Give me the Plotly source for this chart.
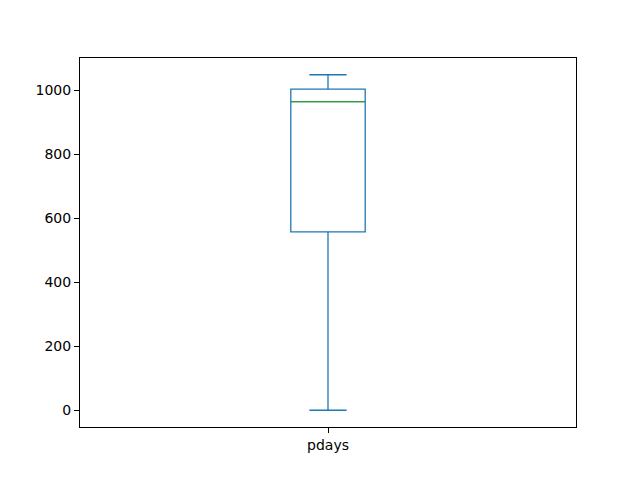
import plotly.graph_objects as go

# summary stats
labels = ["pdays"]
lower_fence = [0]
q1 = [558]
median = [965]
q3 = [1004]
upper_fence = [1049]

yticks = [0, 200, 400, 600, 800, 1000]

box_w = 0.15
xpos = [1 + i for i in range(len(labels))]

fig = go.Figure()
fig.add_trace(go.Box(
    x=xpos, q1=q1, median=median, q3=q3,
    lowerfence=lower_fence, upperfence=upper_fence,
    width=box_w, whiskerwidth=0.5,
    line=dict(color='#1f77b4', width=1.3),
    fillcolor='rgba(0,0,0,0)',
    boxpoints=False, hoverinfo='skip', showlegend=False,
))

# matplotlib draws the median in green
for x, m in zip(xpos, median):
    fig.add_trace(go.Scatter(
        x=[x - box_w / 2, x + box_w / 2], y=[m, m], mode='lines',
        line=dict(color='#2ca02c', width=1.3), showlegend=False, hoverinfo='skip',
    ))

lo = min(lower_fence)
hi = max(upper_fence)
pad = (hi - lo) * 0.05

# page body adds an 8px offset, so margins are shifted to compensate
fig.update_layout(
    width=640, height=480,
    margin=dict(l=72, r=72, t=50, b=61),
    paper_bgcolor='white', plot_bgcolor='white',
    font=dict(family='DejaVu Sans', size=14, color='black'),
)
fig.update_xaxes(range=[0.5, len(labels) + 0.5], tickvals=xpos, ticktext=labels,
                 ticks='outside', ticklen=5, tickcolor='black',
                 showline=True, linewidth=1, linecolor='black', mirror=True,
                 showgrid=False, zeroline=False)
fig.update_yaxes(range=[lo - pad, hi + pad], tickvals=yticks,
                 ticks='outside', ticklen=5, tickcolor='black',
                 showline=True, linewidth=1, linecolor='black', mirror=True,
                 showgrid=False, zeroline=False)

fig.write_html("out.html")
